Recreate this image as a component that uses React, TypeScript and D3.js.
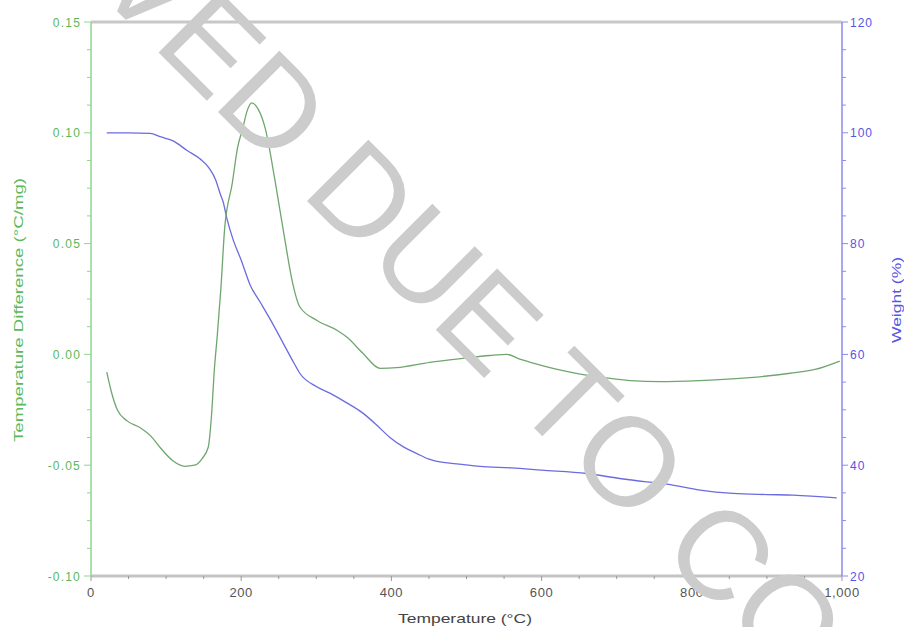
import React from "react";
import * as d3 from "d3";

// DTA curve (temperature difference, °C/mg) vs temperature (°C)
const dtaTemp = [21, 28, 35, 48, 65, 80, 92, 109, 125, 138, 148, 156, 161, 164, 168, 173, 178, 188, 195, 202, 208, 214, 222, 232, 245, 258, 268, 278, 301, 328, 341, 362, 385, 407, 451, 495, 531, 554, 570, 590, 624, 678, 718, 758, 811, 877, 931, 964, 997];
const dtaValue = [-0.008, -0.018, -0.025, -0.03, -0.033, -0.037, -0.042, -0.048, -0.0505, -0.05, -0.047, -0.042, -0.025, -0.008, 0.008, 0.03, 0.057, 0.077, 0.093, 0.102, 0.11, 0.1135, 0.111, 0.102, 0.0785, 0.052, 0.033, 0.0215, 0.0153, 0.0108, 0.0077, 0.0005, -0.0063, -0.006, -0.0036, -0.0018, -0.0005, 0.0, -0.002, -0.004, -0.007, -0.0103, -0.0118, -0.0123, -0.0118, -0.0105, -0.0085, -0.0068, -0.003];

// TGA curve (weight %) vs temperature (°C)
const tgaTemp = [21, 50, 79, 92, 110, 128, 145, 158, 166, 172, 176, 181, 189, 200, 212, 225, 240, 256, 270, 278, 300, 318, 340, 362, 380, 398, 416, 434, 450, 469, 490, 518, 560, 600, 660, 704, 740, 767, 811, 855, 900, 935, 993];
const tgaWeight = [100, 100, 99.9, 99.3, 98.5, 96.8, 95.3, 93.5, 91.5, 89, 87.5, 84.5, 80.8, 77, 72.5, 69.5, 66, 62, 58.5, 56.6, 54.2, 53, 51.3, 49.4, 47.3, 45, 43.3, 42.1, 41.1, 40.5, 40.2, 39.8, 39.5, 39.1, 38.5, 37.6, 37.0, 36.6, 35.5, 34.9, 34.7, 34.6, 34.1];

const xTicks = [0, 200, 400, 600, 800, 1000];
const leftTicks = [0.15, 0.1, 0.05, 0.0, -0.05, -0.1];
const leftTickLabels = ["0.15", "0.10", "0.05", "0.00", "-0.05", "-0.10"];
const rightTicks = [120, 100, 80, 60, 40, 20];

const W = 904, H = 627;
const L = 91, R = 842, T = 22, B = 576;

export default function App() {
  const x = d3.scaleLinear().domain([0, 1000]).range([L, R]);
  const yL = d3.scaleLinear().domain([-0.1, 0.15]).range([B, T]);
  const yR = d3.scaleLinear().domain([20, 120]).range([B, T]);

  const dtaLine = d3.line<number>().x((_, i) => x(dtaTemp[i])).y((d) => yL(d)).curve(d3.curveMonotoneX);
  const tgaLine = d3.line<number>().x((_, i) => x(tgaTemp[i])).y((d) => yR(d)).curve(d3.curveMonotoneX);

  const xMinor = d3.range(0, 1001, 50);
  const lMinor = d3.range(0, 21).map((i) => -0.1 + i * 0.0125);
  const rMinor = d3.range(20, 121, 5);

  const green = "#5bb85b";
  const blue = "#5555e6";
  const fmtX = d3.format(",");

  const wmFont = 126;

  return (
    <svg width={W} height={H} style={{ position: "absolute", left: 0, top: 0, background: "#fff" }} fontFamily="'Liberation Sans', Arial, sans-serif">
      <rect x={0} y={0} width={W} height={H} fill="#fff" />
      {/* top frame line */}
      <line x1={L} x2={R} y1={T} y2={T} stroke="#c8c8c8" strokeWidth={3} />
      {/* bottom axis */}
      <line x1={L} x2={R} y1={B} y2={B} stroke="#c4c4c4" strokeWidth={3} />
      {xMinor.map((t) => (
        <line key={"xm" + t} x1={x(t)} x2={x(t)} y1={B} y2={B + (t % 200 === 0 ? 5 : 3)} stroke="#999" strokeWidth={1} />
      ))}
      {xTicks.map((t) => (
        <text key={"xt" + t} x={x(t)} y={597} textAnchor="middle" fontSize={13} fill="#555" letterSpacing={0.6}>
          {fmtX(t)}
        </text>
      ))}
      <text x={465} y={623} textAnchor="middle" fontSize={13} fill="#444" textLength={134} lengthAdjust="spacingAndGlyphs">
        Temperature (°C)
      </text>

      {/* left axis */}
      <line x1={L} x2={L} y1={T} y2={B} stroke="#8fd68f" strokeWidth={1.5} />
      {lMinor.map((v, i) => (
        <line key={"lm" + i} x1={L - (i % 4 === 0 ? 7 : 4)} x2={L} y1={yL(v)} y2={yL(v)} stroke="#8fd68f" strokeWidth={1} />
      ))}
      {leftTicks.map((v, i) => (
        <text key={"lt" + i} x={81} y={yL(v) + 4.5} textAnchor="end" fontSize={12} fill={green} letterSpacing={1.2}>
          {leftTickLabels[i]}
        </text>
      ))}
      <text transform="translate(23,310) rotate(-90)" textAnchor="middle" fontSize={13} fill={green} textLength={264} lengthAdjust="spacingAndGlyphs">
        Temperature Difference (°C/mg)
      </text>

      {/* right axis */}
      <line x1={R} x2={R} y1={T} y2={B} stroke="#8a8af0" strokeWidth={1.5} />
      {rMinor.map((v) => (
        <line key={"rm" + v} x1={R} x2={R + (v % 20 === 0 ? 6 : 4)} y1={yR(v)} y2={yR(v)} stroke="#8a8af0" strokeWidth={1} />
      ))}
      {rightTicks.map((v) => (
        <text key={"rt" + v} x={850} y={yR(v) + 4.5} textAnchor="start" fontSize={12} fill={blue} letterSpacing={1}>
          {v}
        </text>
      ))}
      <text transform="translate(901,300) rotate(-90)" textAnchor="middle" fontSize={13} fill={blue} textLength={86} lengthAdjust="spacingAndGlyphs">
        Weight (%)
      </text>

      {/* data lines */}
      <path d={tgaLine(tgaWeight) || ""} fill="none" stroke="#6b6be0" strokeWidth={1.3} />
      <path d={dtaLine(dtaValue) || ""} fill="none" stroke="#6fa66f" strokeWidth={1.3} />

      {/* watermark */}
      <text transform="translate(540,434) rotate(45)" x={-8.03 * wmFont} y={0} fontSize={wmFont} fill="#cccccc" fillOpacity={1}>
        REMOVED DUE TO COPYRIGHT
      </text>
    </svg>
  );
}
